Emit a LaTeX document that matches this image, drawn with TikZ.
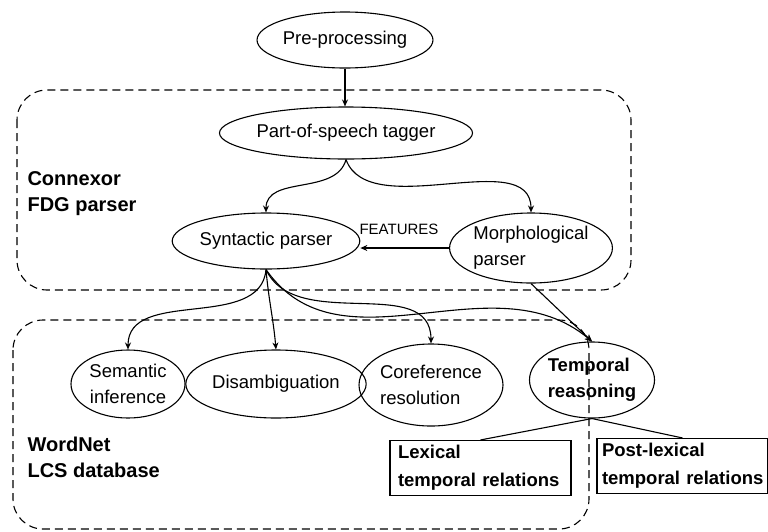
\documentclass[tikz,border=0pt]{standalone}
\usepackage{fontspec}
\setmainfont{Liberation Sans}
\usetikzlibrary{shapes.geometric, arrows.meta}

\begin{document}
\begin{tikzpicture}[
    x=1pt, y=-1pt,
    every node/.style={font=\fontsize{18.5}{26}\selectfont},
    stage/.style={ellipse, draw, line width=1.1pt, inner sep=0pt, align=center},
    result/.style={rectangle, draw, line width=1.1pt, inner sep=0pt, align=left, text width=#1},
    group/.style={draw, line width=1.1pt, rounded corners=30pt, dash pattern=on 8pt off 5pt},
    grouplabel/.style={anchor=west, align=left, font=\fontsize{20}{26}\selectfont\bfseries},
    arrow/.style={-{Stealth[length=7pt, width=6pt]}, line width=1.1pt}
]
    \useasboundingbox (0,0) rectangle (768,531);

    % Groups
    \draw[group] (17,90) rectangle (631,290);
    \draw[group] (13,320) rectangle (589,529);
    \node[grouplabel] (connexor) at (24,194) {Connexor\\FDG parser};
    \node[grouplabel] (wordnet) at (24,457) {WordNet\\LCS database};

    % Stages
    \node[stage, minimum width=138pt, minimum height=56pt] (pre) at (345,40) {Pre-processing};
    \node[stage, minimum width=216pt, minimum height=52pt] (pos) at (346,133) {Part-of-speech tagger};
    \node[stage, minimum width=168pt, minimum height=56pt] (syn) at (266,241) {Syntactic parser};
    \node[stage, minimum width=158pt, minimum height=70pt, align=left] (morph) at (531,248) {Morphological\\parser};
    \node (features) at (399,229) {\fontsize{15}{18}\selectfont FEATURES};

    \node[stage, minimum width=114pt, minimum height=68pt] (sem) at (128,384) {Semantic\\inference};
    \node[stage, minimum width=163pt, minimum height=68pt] (dis) at (276,384) {Disambiguation};
    \node[stage, minimum width=122pt, minimum height=82pt, align=left] (coref) at (431,385) {Coreference\\resolution};
    \node[stage, minimum width=114pt, minimum height=76pt, align=left, font=\fontsize{18.5}{26}\selectfont\bfseries] (temp) at (592,380) {Temporal\\reasoning};

    % Results
    \node[result=181pt, minimum height=55pt, font=\fontsize{18.5}{28}\selectfont\bfseries] (lex) at (480.5,468) {\hspace*{8pt}Lexical\\\hspace*{8pt}temporal relations};
    \node[result=171pt, minimum height=55pt, font=\fontsize{18.5}{28}\selectfont\bfseries] (post) at (682.5,466) {\hspace*{5pt}Post-lexical\\\hspace*{5pt}temporal relations};

    % Arrows
    \draw[arrow] (pre.south) -- (pre.south |- pos.north);
    \draw[arrow] (pos.south) to[out=-105, in=90] (syn.north);
    \draw[arrow] (pos.south) to[out=-70, in=90, looseness=0.9] (morph.north);
    \draw[arrow] (morph.west) -- (morph.west -| syn.east);
    \draw[arrow] (syn.south) to[out=-95, in=90] (sem.north);
    \draw[arrow] (syn.south) to[out=-85, in=95] (dis.north);
    \draw[arrow] (syn.south) to[out=-65, in=90] (coref.north);
    \draw[arrow] (syn.south) to[out=-55, in=140] (temp.north);
    \draw[arrow] (morph.south) -- (temp.north);
    \draw[line width=1.1pt] (temp.south) -- (lex.north);
    \draw[line width=1.1pt] (temp.south) -- (post.north);
\end{tikzpicture}
\end{document}
